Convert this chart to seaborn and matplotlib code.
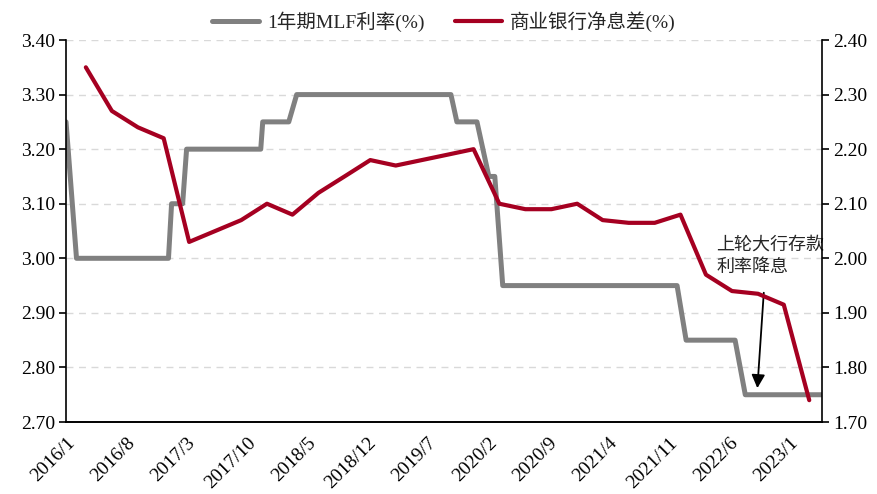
import pandas as pd
import matplotlib
matplotlib.use("Agg")
import matplotlib.pyplot as plt
import seaborn as sns

# 1-year MLF rate, change points (step-like series)
mlf_dates = ['2016-01-01', '2016-02-07', '2016-12-28', '2017-01-08', '2017-02-16',
             '2017-03-02', '2017-11-19', '2017-11-26', '2018-02-26', '2018-03-26',
             '2019-09-22', '2019-10-13', '2019-12-23', '2020-02-03', '2020-02-24',
             '2020-03-23', '2021-11-29', '2021-12-31', '2022-06-22', '2022-07-28',
             '2023-04-25']
mlf_values = [3.25, 3.00, 3.00, 3.10, 3.10,
              3.20, 3.20, 3.25, 3.25, 3.30,
              3.30, 3.25, 3.25, 3.15, 3.15,
              2.95, 2.95, 2.85, 2.85, 2.75,
              2.75]

# commercial bank net interest margin, quarterly
nim_months = ['2016-03', '2016-06', '2016-09', '2016-12',
              '2017-03', '2017-06', '2017-09', '2017-12',
              '2018-03', '2018-06', '2018-09', '2018-12',
              '2019-03', '2019-06', '2019-09', '2019-12',
              '2020-03', '2020-06', '2020-09', '2020-12',
              '2021-03', '2021-06', '2021-09', '2021-12',
              '2022-03', '2022-06', '2022-09', '2022-12',
              '2023-03']
nim_values = [2.35, 2.27, 2.24, 2.22,
              2.03, 2.05, 2.07, 2.10,
              2.08, 2.12, 2.15, 2.18,
              2.17, 2.18, 2.19, 2.20,
              2.10, 2.09, 2.09, 2.10,
              2.07, 2.065, 2.065, 2.08,
              1.97, 1.94, 1.935, 1.915,
              1.74]

tick_labels = ['2016/1', '2016/8', '2017/3', '2017/10', '2018/5', '2018/12', '2019/7',
               '2020/2', '2020/9', '2021/4', '2021/11', '2022/6', '2023/1']

mlf_label = '1年期MLF利率(%)'
nim_label = '商业银行净息差(%)'
note_text = '上轮大行存款\n利率降息'

GRAY = '#808080'
RED = '#A50021'

sns.set_style("white")
plt.rcParams['font.family'] = ['Liberation Serif', 'Noto Sans CJK SC', 'DejaVu Sans']

df_mlf = pd.DataFrame({'date': pd.to_datetime(mlf_dates), 'value': mlf_values})
df_nim = pd.DataFrame({'date': pd.to_datetime(nim_months) + pd.Timedelta(days=10),
                       'value': nim_values})

fig, ax = plt.subplots(figsize=(8.78, 4.94), dpi=100)
fig.subplots_adjust(left=0.0752, right=0.9362, top=0.919, bottom=0.1457)
ax2 = ax.twinx()

sns.lineplot(data=df_mlf, x='date', y='value', ax=ax, color=GRAY, linewidth=3.6,
             label=mlf_label, legend=False)
sns.lineplot(data=df_nim, x='date', y='value', ax=ax2, color=RED, linewidth=3.0,
             label=nim_label, legend=False)

ax.set_xlim(pd.Timestamp('2016-01-01'), pd.Timestamp('2023-04-25'))
ax.set_ylim(2.70, 3.40)
ax2.set_ylim(1.70, 2.40)
ax.set_yticks([2.70 + 0.1 * i for i in range(8)])
ax2.set_yticks([1.70 + 0.1 * i for i in range(8)])
ax.set_yticklabels([f'{2.70 + 0.1 * i:.2f}' for i in range(8)], fontsize=14)
ax2.set_yticklabels([f'{1.70 + 0.1 * i:.2f}' for i in range(8)], fontsize=14)

tick_pos = [pd.Timestamp(s.replace('/', '-') + '-01') for s in tick_labels]
ax.set_xticks(tick_pos)
ax.set_xticklabels(tick_labels, rotation=45, ha='right', rotation_mode='anchor', fontsize=14)

ax.grid(axis='y', color='#D9D9D9', linestyle=(0, (5, 4)), linewidth=1.0)
ax.set_axisbelow(True)
ax.set_xlabel('')
ax.set_ylabel('')
ax2.set_ylabel('')

for a in (ax, ax2):
    a.spines['top'].set_visible(False)
    for s in ('left', 'right', 'bottom'):
        a.spines[s].set_color('black')
        a.spines[s].set_linewidth(1.2)
ax.spines['right'].set_visible(False)
ax2.spines['left'].set_visible(False)
ax.tick_params(axis='x', direction='out', length=5, width=1.2, colors='black', pad=4)
ax.tick_params(axis='y', direction='out', length=5, width=1.2, colors='black', pad=3)
ax2.tick_params(axis='y', direction='out', length=5, width=1.2, colors='black', pad=3)

# annotation
ax.text(pd.Timestamp('2022-04-16'), 3.005, note_text, ha='left', va='center',
        fontsize=13, linespacing=1.35, family=['Noto Sans CJK SC', 'DejaVu Sans'],
        zorder=5)
ax.annotate('', xy=(pd.Timestamp('2022-09-08'), 2.757),
            xytext=(pd.Timestamp('2022-10-02'), 2.942),
            arrowprops=dict(arrowstyle='-|>', color='black', lw=1.3, mutation_scale=20))

h1, l1 = ax.get_legend_handles_labels()
h2, l2 = ax2.get_legend_handles_labels()
ax.legend(h1 + h2, l1 + l2, loc='lower center', bbox_to_anchor=(0.5, 0.99), ncol=2,
          frameon=False, fontsize=14, handlelength=2.4, handletextpad=0.4,
          columnspacing=1.6, borderaxespad=0.2)

plt.savefig('out.png', dpi=100)
